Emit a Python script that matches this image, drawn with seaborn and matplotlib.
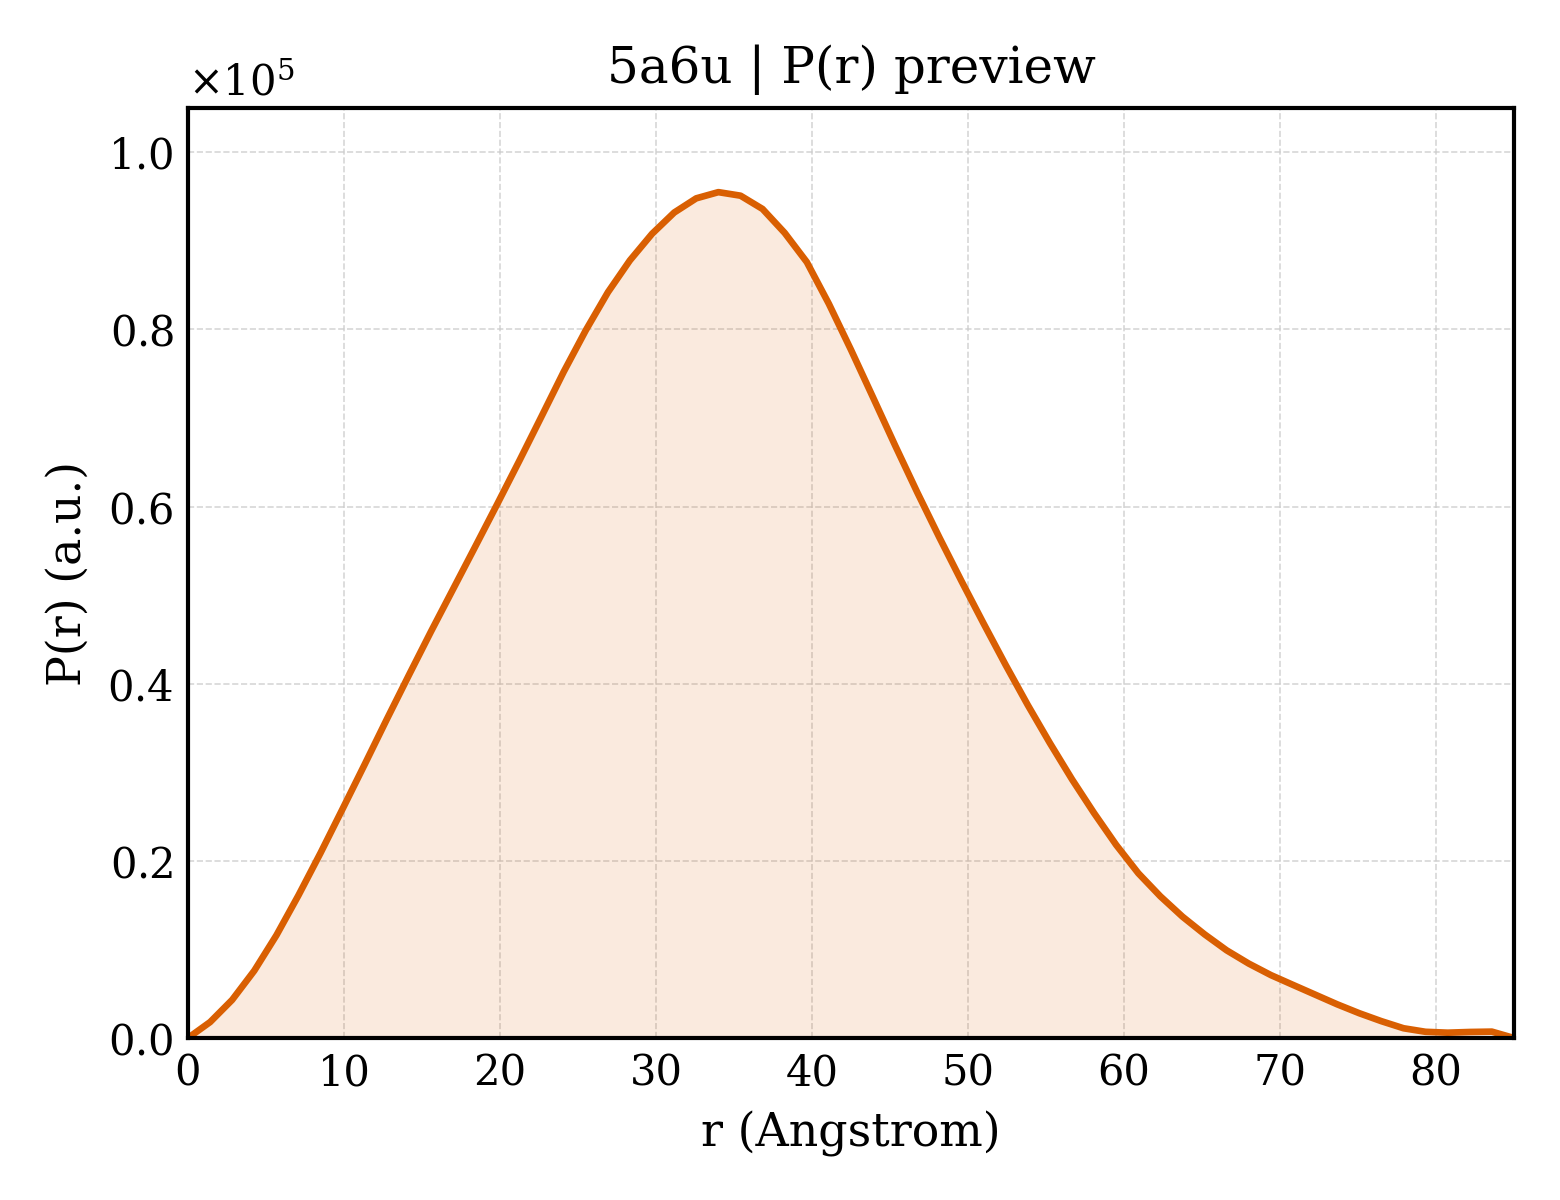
import numpy as np
import pandas as pd
import matplotlib
matplotlib.use("Agg")
import matplotlib.pyplot as plt
import seaborn as sns

# r (Angstrom) y P(r)
r_vals = [0.0, 1.42, 2.83, 4.25, 5.67, 7.08, 8.5, 9.92, 11.33, 12.75,
          14.17, 15.58, 17.0, 18.42, 19.83, 21.25, 22.67, 24.08, 25.5, 26.92,
          28.33, 29.75, 31.17, 32.58, 34.0, 35.42, 36.83, 38.25, 39.67, 41.08,
          42.5, 43.92, 45.33, 46.75, 48.17, 49.58, 51.0, 52.42, 53.83, 55.25,
          56.67, 58.08, 59.5, 60.92, 62.33, 63.75, 65.17, 66.58, 68.0, 69.42,
          70.83, 72.25, 73.67, 75.08, 76.5, 77.92, 79.33, 80.75, 82.17, 83.58,
          85.0]
pr_vals = [0, 1800, 4300, 7600, 11600, 16100, 20900, 25900, 30900, 36000,
           41000, 45900, 50700, 55500, 60300, 65200, 70200, 75200, 79900, 84200,
           87800, 90800, 93200, 94800, 95500, 95100, 93600, 90900, 87600, 82900,
           77700, 72300, 66900, 61600, 56500, 51600, 46800, 42100, 37600, 33300,
           29200, 25400, 21800, 18600, 16000, 13700, 11700, 9900, 8400, 7100,
           6000, 4900, 3800, 2800, 1900, 1100, 700, 600, 680, 720,
           0]

df = pd.DataFrame({'r': r_vals, 'pr': pr_vals})

sns.set_style("white")
plt.rcParams['font.family'] = ['DejaVu Serif']
plt.rcParams['mathtext.fontset'] = 'dejavuserif'
plt.rcParams['text.color'] = 'black'
plt.rcParams['axes.labelcolor'] = 'black'
plt.rcParams['xtick.direction'] = 'in'
plt.rcParams['ytick.direction'] = 'in'

color_linea = "#d95f02"

fig, ax = plt.subplots(figsize=(5.2, 4), dpi=300)
fig.subplots_adjust(left=0.1205, right=0.9705, bottom=0.135, top=0.91)

ax.fill_between(df['r'], df['pr'], 0, color=color_linea, alpha=0.13, linewidth=0)
sns.lineplot(data=df, x='r', y='pr', color=color_linea, linewidth=1.6, ax=ax)

ax.set_xlim(0, 85)
ax.set_ylim(0, 105000)
ax.set_xticks(range(0, 81, 10))
ax.set_yticks([0, 20000, 40000, 60000, 80000, 100000])
ax.ticklabel_format(axis='y', style='sci', scilimits=(0, 0), useMathText=True)
ax.yaxis.get_offset_text().set_fontsize(10)
ax.yaxis.get_offset_text().set_color('black')

ax.grid(True, linestyle='--', linewidth=0.4, color='#cccccc', alpha=0.8)
ax.tick_params(axis='both', labelsize=10, length=4, width=0.9, colors='black',
               top=False, right=False)
for s in ax.spines.values():
    s.set_color('black')
    s.set_linewidth(1.0)

ax.set_title('5a6u | P(r) preview', fontsize=12, color='black')
ax.set_xlabel('r (Angstrom)', fontsize=11, color='black')
ax.set_ylabel('P(r) (a.u.)', fontsize=11, color='black')

plt.savefig('out.png', dpi=300)
